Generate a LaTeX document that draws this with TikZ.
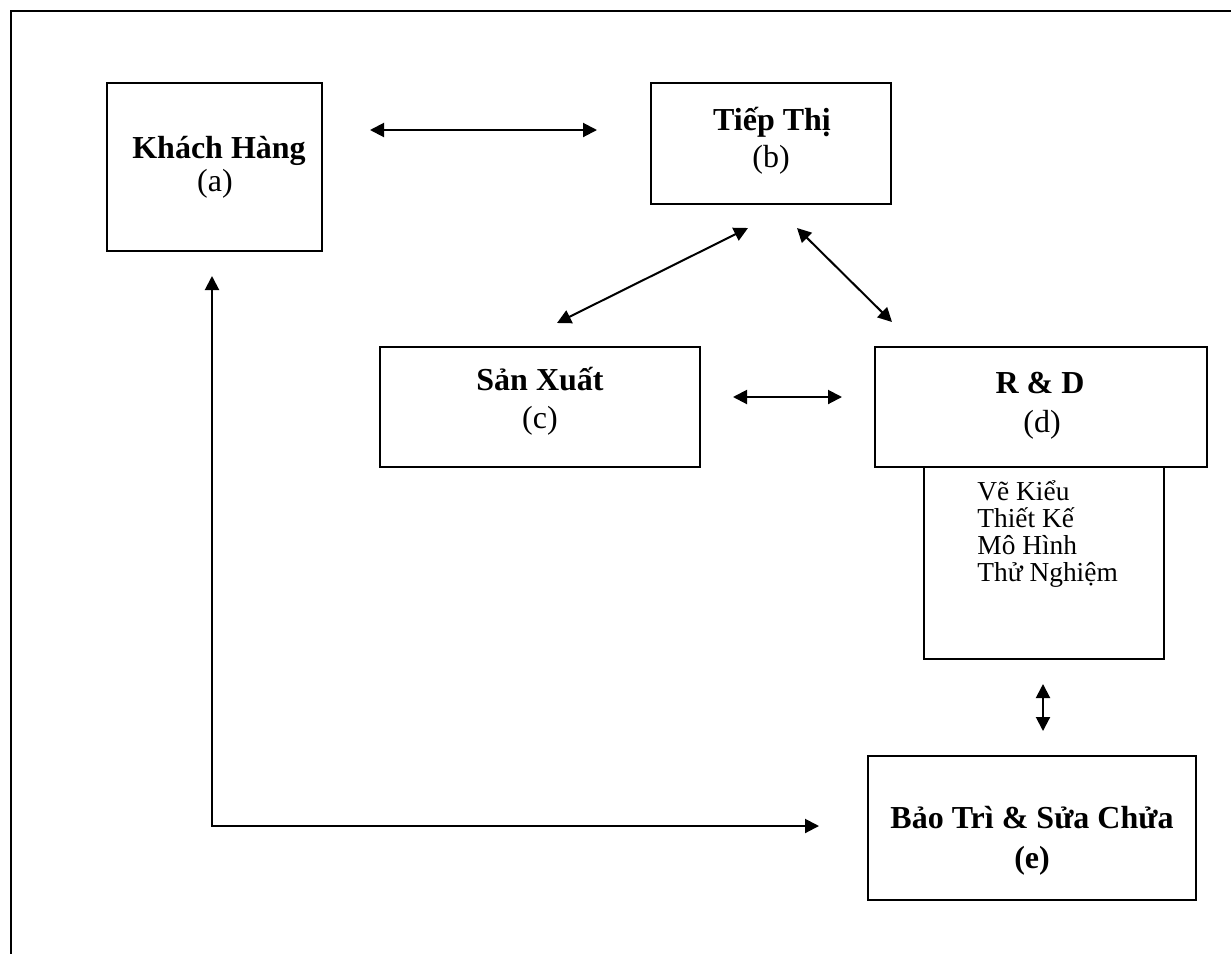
\documentclass[tikz,border=0pt]{standalone}
\usepackage{fontspec}
\setmainfont{Liberation Serif}
\usetikzlibrary{arrows.meta}

\tikzset{
  box/.style={draw, line width=1pt, rectangle, inner sep=0pt},
  title/.style={anchor=base, inner sep=0pt, font=\fontsize{16}{16}\selectfont\bfseries},
  tag/.style={anchor=base, inner sep=0pt, font=\fontsize{16}{16}\selectfont},
  steps/.style={anchor=base west, inner sep=0pt, align=left, font=\fontsize{13.7}{13.4}\selectfont},
  link/.style={line width=1pt, {Triangle[length=7pt,width=7pt]}-{Triangle[length=7pt,width=7pt]}},
}

\begin{document}
\begin{tikzpicture}[x=0.5pt,y=-0.5pt]
\useasboundingbox (0,0) rectangle (1231,954);

% frame
\draw[line width=1pt] (1231,11) -- (11,11) -- (11,954);

% Khach Hang
\node[box, minimum width=107.5pt, minimum height=84pt] (kh) at (214.5,167) {};
\node[title] (khT) at (219,158) {Khách Hàng};
\node[tag] (khL) at (215,191) {(a)};

% Tiep Thi
\node[box, minimum width=120pt, minimum height=60.5pt] (tt) at (771,143.5) {};
\node[title] (ttT) at (772,130) {Tiếp Thị};
\node[tag] (ttL) at (771,167) {(b)};

% San Xuat
\node[box, minimum width=160pt, minimum height=60pt] (sx) at (540,407) {};
\node[title] (sxT) at (540,390) {Sản Xuất};
\node[tag] (sxL) at (540,428) {(c)};

% R & D
\node[box, minimum width=166pt, minimum height=60pt] (rd) at (1041,407) {};
\node[title] (rdT) at (1040,393) {R \& D};
\node[tag] (rdL) at (1042,432) {(d)};

% R & D steps
\node[box, minimum width=120pt, minimum height=96pt] (sub) at (1044,563) {};
\node[steps] (subT) at (977,581) {Vẽ Kiểu\\Thiết Kế\\Mô Hình\\Thử Nghiệm};

% Bao Tri & Sua Chua
\node[box, minimum width=164pt, minimum height=72pt] (bt) at (1032,828) {};
\node[title] (btT) at (1032,828) {Bảo Trì \& Sửa Chửa};
\node[title] (btL) at (1032,868) {(e)};

% arrow ends
\coordinate (khE) at (370,130);
\coordinate (ttW) at (597,130);
\coordinate (ttSW) at (748,228);
\coordinate (sxN) at (557,323);
\coordinate (ttSE) at (797,228);
\coordinate (rdN) at (892,322);
\coordinate (sxE) at (733,397);
\coordinate (rdW) at (842,397);
\coordinate (subS) at (1043,684);
\coordinate (btN) at (1043,731);
\coordinate (khS) at (212,276);
\coordinate (btW) at (819,826);

\draw[link] (khE) -- (ttW);
\draw[link] (ttSW) -- (sxN);
\draw[link] (ttSE) -- (rdN);
\draw[link] (sxE) -- (rdW);
\draw[link] (subS) -- (btN);
\draw[link] (khS) |- (btW);

\end{tikzpicture}
\end{document}
